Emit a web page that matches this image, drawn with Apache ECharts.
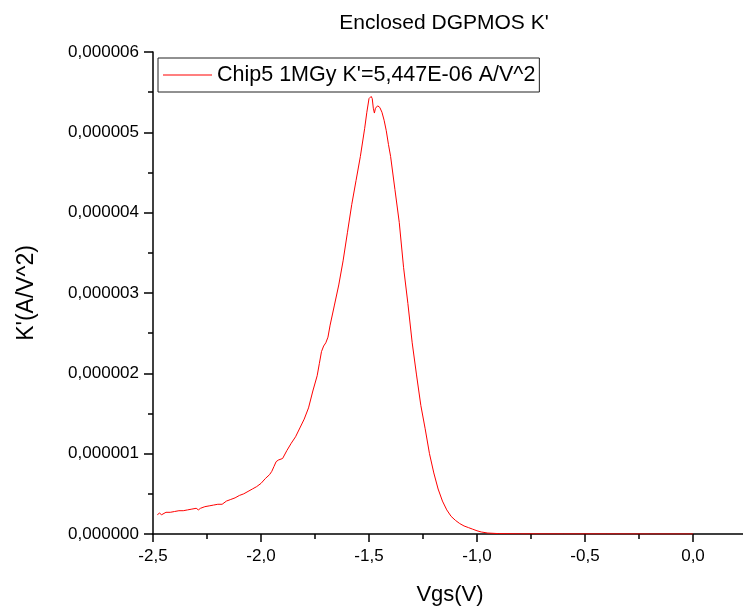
<!DOCTYPE html>
<html>
<head>
<meta charset="utf-8">
<script src="https://cdn.jsdelivr.net/npm/echarts@6/dist/echarts.min.js"></script>
<style>html,body{margin:0;padding:0;background:#fff;}#chart{width:743px;height:615px;}</style>
</head>
<body>
<div id="chart"></div>
<script>
// Vgs (V)
const vgs = [-2.48,-2.47,-2.46,-2.44,-2.42,-2.40,-2.38,-2.36,-2.34,-2.32,-2.30,-2.29,-2.28,-2.26,-2.24,-2.22,-2.20,-2.18,-2.16,-2.14,-2.12,-2.10,-2.08,-2.06,-2.04,-2.02,-2.00,-1.98,-1.96,-1.95,-1.94,-1.93,-1.92,-1.90,-1.88,-1.86,-1.84,-1.82,-1.80,-1.78,-1.76,-1.74,-1.73,-1.72,-1.71,-1.70,-1.69,-1.68,-1.66,-1.64,-1.62,-1.60,-1.58,-1.56,-1.54,-1.52,-1.51,-1.50,-1.49,-1.485,-1.48,-1.475,-1.47,-1.46,-1.45,-1.44,-1.43,-1.42,-1.41,-1.40,-1.38,-1.36,-1.34,-1.32,-1.30,-1.28,-1.26,-1.24,-1.22,-1.20,-1.18,-1.16,-1.14,-1.12,-1.10,-1.08,-1.06,-1.04,-1.02,-1.00,-0.98,-0.95,-0.90,-0.80,-0.60,-0.40,-0.20,0.00];
// K' in units of 1e-6 A/V^2
const kPrimeMicro = [0.24,0.26,0.24,0.27,0.27,0.28,0.29,0.29,0.30,0.31,0.32,0.30,0.32,0.34,0.35,0.36,0.37,0.37,0.41,0.43,0.45,0.48,0.50,0.53,0.56,0.59,0.63,0.69,0.74,0.78,0.84,0.90,0.92,0.94,1.04,1.13,1.21,1.32,1.43,1.57,1.78,1.97,2.12,2.27,2.34,2.38,2.45,2.60,2.85,3.10,3.40,3.75,4.10,4.40,4.70,5.05,5.25,5.42,5.447,5.42,5.30,5.24,5.30,5.33,5.31,5.25,5.15,5.02,4.85,4.70,4.29,3.88,3.32,2.87,2.38,1.98,1.60,1.31,1.00,0.76,0.56,0.41,0.30,0.22,0.17,0.13,0.10,0.08,0.06,0.04,0.025,0.012,0.005,0.002,0.001,0.001,0.0,0.0];
const xTicks = ['-2,5','-2,0','-1,5','-1,0','-0,5','0,0'];
const yTicks = ['0,000000','0,000001','0,000002','0,000003','0,000004','0,000005','0,000006'];
const seriesName = "Chip5 1MGy K'=5,447E-06 A/V^2";

const chart = echarts.init(document.getElementById('chart'));
const font = 'Liberation Sans, Arial, Helvetica, sans-serif';
chart.setOption({
  animation: false,
  backgroundColor: '#fff',
  title: {
    text: "Enclosed DGPMOS K'", left: 439, top: 8, textAlign: 'center',
    textStyle: {fontSize: 21, fontWeight: 'normal', color: '#000', fontFamily: font}
  },
  legend: {
    left: 158, top: 58, orient: 'horizontal',
    padding: [6, 4, 6, 5],
    borderColor: '#222', borderWidth: 1,
    icon: 'rect', itemWidth: 49, itemHeight: 1, itemGap: 5,
    itemStyle: {color: '#ff0000'},
    textStyle: {fontSize: 21.5, color: '#000', fontFamily: font},
    data: [seriesName]
  },
  grid: {left: 153, top: 52, width: 594, height: 482, outerBoundsMode: 'none', containLabel: false},
  xAxis: {
    type: 'value', min: -2.5, max: 0.25, interval: 0.5,
    axisLine: {onZero: false, lineStyle: {color: '#000', width: 1.5}},
    axisTick: {length: 8, lineStyle: {color: '#000', width: 1.5}},
    minorTick: {show: true, splitNumber: 2, length: 5, lineStyle: {color: '#000', width: 1.5}},
    splitLine: {show: false},
    axisLabel: {
      margin: 14, fontSize: 17, color: '#000', fontFamily: font, hideOverlap: false,
      formatter: function (v) { const i = Math.round((v + 2.5) / 0.5); return (v > 0.01) ? '' : (xTicks[i] || ''); }
    },
    name: 'Vgs(V)', nameLocation: 'middle', nameGap: 50,
    nameTextStyle: {fontSize: 22, color: '#000', fontFamily: font}
  },
  yAxis: {
    type: 'value', min: 0, max: 6, interval: 1,
    axisLine: {onZero: false, lineStyle: {color: '#000', width: 1.5}},
    axisTick: {length: 9, lineStyle: {color: '#000', width: 1.5}},
    minorTick: {show: true, splitNumber: 2, length: 5, lineStyle: {color: '#000', width: 1.5}},
    splitLine: {show: false},
    axisLabel: {
      margin: 14, fontSize: 17, color: '#000', fontFamily: font,
      formatter: function (v) { return yTicks[Math.round(v)] || ''; }
    },
    name: "K'(A/V^2)", nameLocation: 'middle', nameGap: 115, nameRotate: 90,
    nameTextStyle: {fontSize: 23, color: '#000', fontFamily: font}
  },
  series: [{
    name: seriesName, type: 'line', symbol: 'none', smooth: false,
    lineStyle: {color: '#ff0000', width: 1},
    itemStyle: {color: '#ff0000'},
    data: vgs.map((v, i) => [v, kPrimeMicro[i]])
  }]
});
</script>
</body>
</html>
